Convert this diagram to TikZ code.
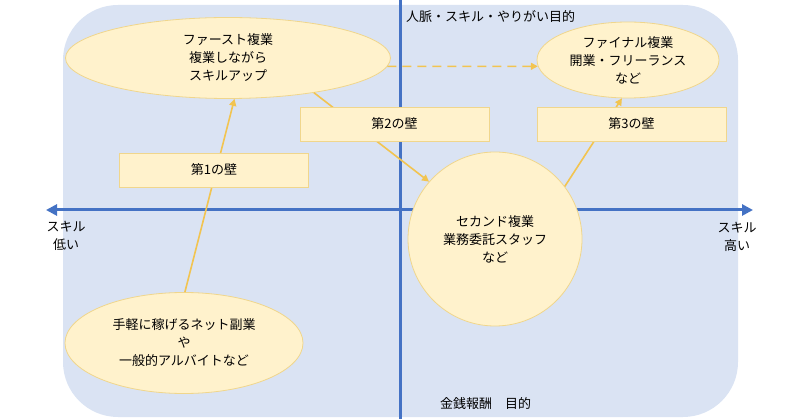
\documentclass[tikz,border=0pt]{standalone}
\usepackage{fontspec}
\newfontfamily\jp{Noto Sans CJK JP}
\usetikzlibrary{shapes.geometric,arrows.meta}
\definecolor{bgblue}{RGB}{218,227,243}
\definecolor{axisblue}{RGB}{68,114,196}
\definecolor{shapefill}{RGB}{255,242,204}
\definecolor{shapeline}{RGB}{240,214,140}
\definecolor{arrowgold}{RGB}{242,196,80}
\begin{document}
\begin{tikzpicture}[x=1pt,y=-1pt,
  font=\jp\fontsize{13}{18}\selectfont,
  ell/.style={ellipse,draw=shapeline,fill=shapefill,line width=0.8pt,inner sep=0pt,align=center},
  wall/.style={rectangle,draw=shapeline,fill=shapefill,line width=0.8pt,inner sep=0pt,minimum width=189pt,minimum height=34pt},
  flow/.style={draw=arrowgold,line width=1.6pt,-{Triangle[length=7pt,width=7pt]}},
  axisline/.style={draw=axisblue,line width=3pt},
  lbl/.style={inner sep=0pt,align=center}]
\useasboundingbox (0,0) rectangle (800,419);
\fill[bgblue,rounded corners=55pt] (63,5) rectangle (738,417);
% axes
\coordinate (vtop) at (400,0);
\coordinate (vbot) at (400,419);
\coordinate (hleft) at (46,210);
\coordinate (hright) at (753,210);
\draw[axisline] (vtop) -- (vbot);
\draw[axisline,{Triangle[length=11pt,width=11pt]}-{Triangle[length=11pt,width=11pt]}] (hleft) -- (hright);
% nodes
\node[ell,minimum width=325pt,minimum height=81pt] (first) at (228,58) {ファースト複業\\複業しながら\\スキルアップ};
\node[ell,minimum width=182pt,minimum height=76pt] (final) at (628,60) {ファイナル複業\\開業・フリーランス\\など};
\node[ell,minimum width=238pt,minimum height=101pt] (easy) at (184,343) {手軽に稼げるネット副業\\や\\一般的アルバイトなど};
\node[circle,draw=shapeline,fill=shapefill,line width=0.8pt,inner sep=0pt,minimum size=174pt,align=center] (second) at (495,239) {セカンド複業\\業務委託スタッフ\\など};
% arrows (behind walls)
\draw[flow] (easy.89) -- (first.-81);
\draw[flow] (first.-22) -- (second.139);
\draw[flow] (second.37) -- (final.-99);
\draw[flow,dashed,dash pattern=on 9pt off 6pt] (first.-3.3) -- (final.184.5);
% walls
\node[wall] (w1) at (214,170) {第1の壁};
\node[wall] (w2) at (394.5,124) {第2の壁};
\node[wall] (w3) at (631.5,124) {第3の壁};
% axis labels
\node[lbl] (lowskill) at (66,236) {スキル\\低い};
\node[lbl] (highskill) at (737,237) {スキル\\高い};
\node[lbl,anchor=west] (toplbl) at (406,17) {人脈・スキル・やりがい目的};
\node[lbl,anchor=west] (botlbl) at (440,404) {金銭報酬\hspace{1em}目的};
\end{tikzpicture}
\end{document}
